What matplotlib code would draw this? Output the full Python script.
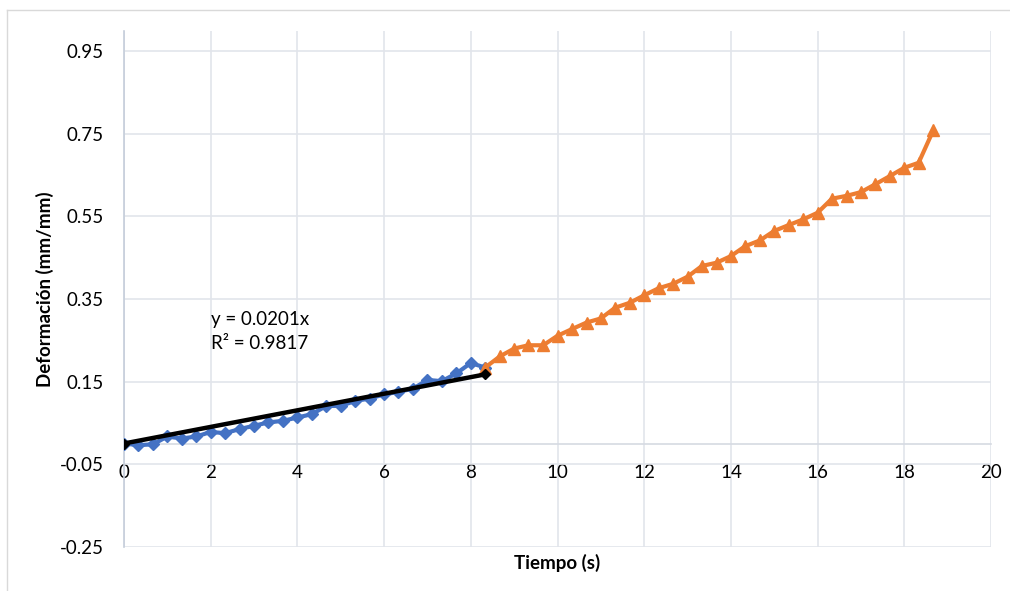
import matplotlib
matplotlib.use("Agg")
import matplotlib.pyplot as plt
from matplotlib.ticker import FixedLocator, FuncFormatter
from matplotlib.lines import Line2D

plt.rcParams['font.family'] = ['Lato', 'DejaVu Sans']

# Time (s) and strain (mm/mm) for the elastic and plastic stages
time_elastic = [0.00, 0.33, 0.67, 1.00, 1.33, 1.67, 2.00, 2.33, 2.67, 3.00,
                3.33, 3.67, 4.00, 4.33, 4.67, 5.00, 5.33, 5.67, 6.00, 6.33,
                6.67, 7.00, 7.33, 7.67, 8.00, 8.33]
strain_elastic = [0.000, -0.004, -0.002, 0.017, 0.012, 0.017, 0.028, 0.025, 0.035, 0.043,
                  0.051, 0.055, 0.063, 0.071, 0.091, 0.091, 0.103, 0.109, 0.119, 0.125,
                  0.133, 0.154, 0.151, 0.170, 0.195, 0.184]

time_plastic = [8.33, 8.67, 9.00, 9.33, 9.67, 10.00, 10.33, 10.67, 11.00, 11.33,
                11.67, 12.00, 12.33, 12.67, 13.00, 13.33, 13.67, 14.00, 14.33, 14.67,
                15.00, 15.33, 15.67, 16.00, 16.33, 16.67, 17.00, 17.33, 17.67, 18.00,
                18.33, 18.67]
strain_plastic = [0.184, 0.211, 0.230, 0.238, 0.238, 0.261, 0.277, 0.293, 0.303, 0.329,
                  0.341, 0.359, 0.376, 0.387, 0.404, 0.430, 0.438, 0.454, 0.478, 0.492,
                  0.515, 0.529, 0.543, 0.559, 0.593, 0.600, 0.609, 0.628, 0.648, 0.668,
                  0.680, 0.759]

# Linear fit through the origin for the elastic stage
trend_slope = 0.0201
trend_r2 = 0.9817
trend_time = [time_elastic[0], time_elastic[-1]]

y_ticks = [-0.25, -0.05, 0.15, 0.35, 0.55, 0.75, 0.95]
x_ticks = [0, 2, 4, 6, 8, 10, 12, 14, 16, 18, 20]

BLUE = '#4472C4'
ORANGE = '#ED7D31'
GRID = '#E2E5EB'
TEXT = '#000000'

W, H = 1010, 591
fig = plt.figure(figsize=(W / 100, H / 100), dpi=100)
fig.patch.set_facecolor('white')

# chart frame
fig.add_artist(Line2D([7 / W, 7 / W], [0, 1 - 10 / H], transform=fig.transFigure,
                      color='#D9D9D9', lw=1.0))
fig.add_artist(Line2D([7 / W, 1], [1 - 10 / H, 1 - 10 / H], transform=fig.transFigure,
                      color='#D9D9D9', lw=1.0))

ax = fig.add_axes([124 / W, 44.3 / H, (991 - 124) / W, (560.3 - 44.3) / H])
ax.set_xlim(0, 20)
ax.set_ylim(-0.25, 1.0)

ax.yaxis.set_major_locator(FixedLocator(y_ticks))
ax.yaxis.set_major_formatter(FuncFormatter(lambda v, p: f"{v:.2f}"))
ax.xaxis.set_major_locator(FixedLocator(x_ticks))
ax.xaxis.set_major_formatter(FuncFormatter(lambda v, p: f"{v:g}"))

ax.grid(True, color=GRID, lw=1.2, zorder=0)
ax.set_axisbelow(True)

for s in ('top', 'right'):
    ax.spines[s].set_visible(False)
ax.spines['left'].set_color('#C5CDDA')
ax.spines['left'].set_linewidth(1.2)
ax.spines['bottom'].set_position(('data', 0))
ax.spines['bottom'].set_color('#D6DAE2')
ax.spines['bottom'].set_linewidth(1.2)

ax.tick_params(axis='both', length=0, labelsize=13.5, colors=TEXT)
ax.tick_params(axis='y', pad=14.5)
ax.tick_params(axis='x', pad=15)

ax.plot(time_elastic, strain_elastic, color=BLUE, lw=3.0, marker='D', ms=6.5,
        mec=BLUE, mfc=BLUE, zorder=3, solid_joinstyle='round')
ax.plot(time_plastic, strain_plastic, color=ORANGE, lw=3.0, marker='^', ms=9,
        mec=ORANGE, mfc=ORANGE, zorder=4, solid_joinstyle='round')
ax.plot(trend_time, [trend_slope * t for t in trend_time], color='black', lw=3.2,
        marker='D', ms=5.5, mfc='black', mec='black', zorder=5)

ax.text(2.0, 0.301, f"y = {trend_slope:.4f}x", fontsize=13.5, color=TEXT,
        va='center', ha='left')
ax.text(2.0, 0.243, f"R² = {trend_r2:.4f}", fontsize=13.5, color=TEXT,
        va='center', ha='left')

fig.text(45 / W, 1 - 288.7 / H, 'Deformación (mm/mm)', rotation=90, fontsize=13.5,
         fontweight='bold', ha='center', va='center', color=TEXT)
fig.text(557.5 / W, 1 - 563 / H, 'Tiempo (s)', fontsize=13.5, fontweight='bold',
         ha='center', va='center', color=TEXT)

fig.savefig('out.png', dpi=100, facecolor='white')
